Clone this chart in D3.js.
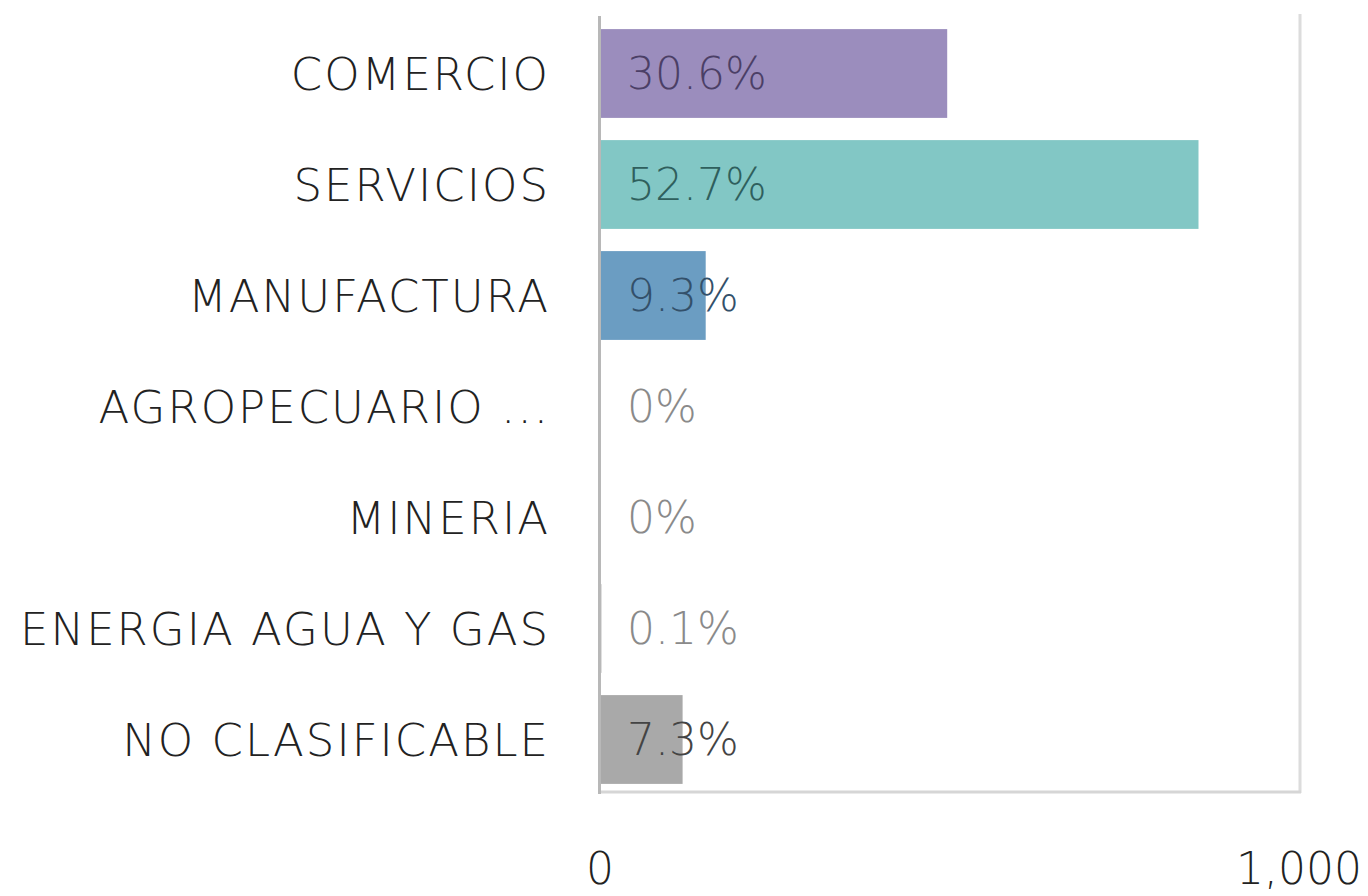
<!DOCTYPE html>
<html><head><meta charset="utf-8">
<script src="https://cdn.jsdelivr.net/npm/d3@7"></script>
<style>body{margin:0;background:#fff;}svg{display:block;}</style>
</head><body>
<script>
const categories = ["COMERCIO","SERVICIOS","MANUFACTURA","AGROPECUARIO ...","MINERIA","ENERGIA AGUA Y GAS","NO CLASIFICABLE"];
const values = [496, 855, 151, 0, 0, 2, 118];
const percentLabels = ["30.6%","52.7%","9.3%","0%","0%","0.1%","7.3%"];
const barColors = ["#9b8dbd","#82c7c5","#6b9dc2","#cccccc","#cccccc","#b0b0b0","#a9a9a9"];
const textColors = ["#4b3f66","#2f5f5d","#33506a","#8a8a8a","#8a8a8a","#8a8a8a","#444444"];
const tickValues = [0, 1000];

const W = 1368, H = 896;
const svg = d3.select("body").append("svg").attr("width", W).attr("height", H);
const font = "'DejaVu Sans', sans-serif";
const fs = 44;

const x = d3.scaleLinear().domain([0, 1000]).range([600, 1300]);
const y = d3.scaleBand().domain(categories).range([18, 795]).paddingInner(0.2).paddingOuter(0.1);

// frame
svg.append("line").attr("x1", 1300).attr("x2", 1300).attr("y1", 14).attr("y2", 793)
  .attr("stroke", "#dcdcdc").attr("stroke-width", 3);
svg.append("line").attr("x1", 598).attr("x2", 1301).attr("y1", 792).attr("y2", 792)
  .attr("stroke", "#d6d6d6").attr("stroke-width", 3);

svg.selectAll("rect.bar").data(categories).enter().append("rect")
  .attr("class", "bar")
  .attr("x", x(0))
  .attr("y", d => y(d))
  .attr("height", y.bandwidth())
  .attr("width", (d, i) => x(values[i]) - x(0))
  .attr("fill", (d, i) => barColors[i]);

svg.append("line").attr("x1", 599.5).attr("x2", 599.5).attr("y1", 16).attr("y2", 794)
  .attr("stroke", "#b8b8b8").attr("stroke-width", 3);

svg.selectAll("text.val").data(categories).enter().append("text")
  .attr("x", 627)
  .attr("y", d => y(d) + y.bandwidth() / 2)
  .attr("dy", "0.36em")
  .attr("font-family", font).attr("font-size", fs).attr("font-weight", 300)
  .attr("fill", (d, i) => textColors[i])
  .text((d, i) => percentLabels[i]);

svg.selectAll("text.cat").data(categories).enter().append("text")
  .attr("x", 550)
  .attr("y", d => y(d) + y.bandwidth() / 2)
  .attr("dy", "0.36em")
  .attr("text-anchor", "end")
  .attr("font-family", font).attr("font-size", 45).attr("font-weight", 300)
  .attr("letter-spacing", 2)
  .attr("fill", "#222")
  .text(d => d);

svg.selectAll("text.tick").data(tickValues).enter().append("text")
  .attr("x", d => d === 0 ? x(d) : 1362)
  .attr("y", 884)
  .attr("text-anchor", d => d === 0 ? "middle" : "end")
  .attr("font-family", font).attr("font-size", fs).attr("font-weight", 300)
  .attr("fill", "#222")
  .text(d => d3.format(",")(d));
</script>
</body></html>
